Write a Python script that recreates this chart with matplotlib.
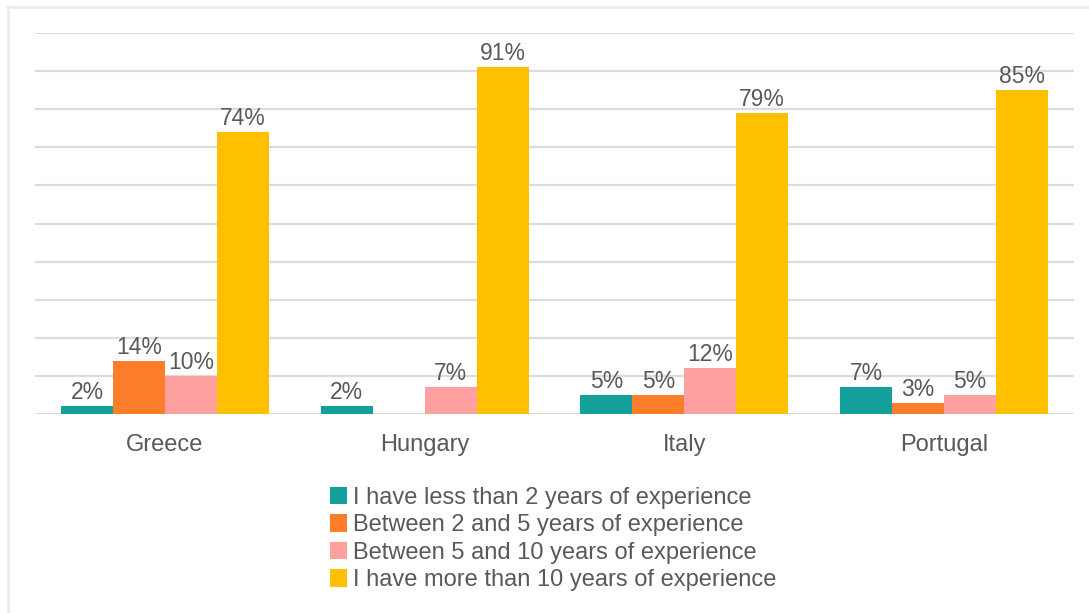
import numpy as np
import matplotlib.pyplot as plt
from matplotlib.lines import Line2D

plt.rcParams['font.family'] = ['Liberation Sans', 'DejaVu Sans']

# Survey answers: years of experience by country (percent)
countries = ['Greece', 'Hungary', 'Italy', 'Portugal']
series_names = [
    'I have less than 2 years of experience',
    'Between 2 and 5 years of experience',
    'Between 5 and 10 years of experience',
    'I have more than 10 years of experience',
]
less_than_2 = [2, 2, 5, 7]
between_2_5 = [14, 0, 5, 3]
between_5_10 = [10, 7, 12, 5]
more_than_10 = [74, 91, 79, 85]

colors = ['#14A19C', '#FD7E2A', '#FFA0A0', '#FFC000']
text_gray = '#595959'


def main():
    fig = plt.figure(figsize=(10.89, 6.13), dpi=100)
    ax = fig.add_axes([35 / 1089, (613 - 414) / 613, 1039 / 1089, (414 - 33) / 613])

    x = np.arange(len(countries))
    width = 0.2
    all_series = [less_than_2, between_2_5, between_5_10, more_than_10]

    for i, (vals, name, c) in enumerate(zip(all_series, series_names, colors)):
        pos = x + (i - 1.5) * width
        bars = ax.bar(pos, vals, width, color=c, label=name, linewidth=0, zorder=3)
        for b, v in zip(bars, vals):
            if v == 0:
                continue  # nobody answered this one, no label
            ax.text(b.get_x() + b.get_width() / 2, v + 0.5, f'{v}%',
                    ha='center', va='bottom', fontsize=16.5, color=text_gray, zorder=4)

    ax.set_xlim(-0.5, 3.5)
    ax.set_ylim(0, 100)
    ax.set_yticks(np.arange(0, 101, 10))
    ax.yaxis.grid(True, color='#dcdcdc', linewidth=1.6, zorder=0)
    ax.set_yticklabels([])
    ax.tick_params(axis='y', length=0)
    ax.set_xticks(x)
    ax.set_xticklabels(countries, fontsize=17, color=text_gray)
    ax.tick_params(axis='x', length=0, pad=14.5)
    for s in ax.spines.values():
        s.set_visible(False)

    fig.legend(loc='upper center', bbox_to_anchor=(0.508, 1 - 475 / 613),
               frameon=False, ncol=1, fontsize=17, labelcolor=text_gray,
               handlelength=0.75, handleheight=0.75, handletextpad=0.25,
               labelspacing=0.23, borderpad=0)

    # light frame along the top and left edges
    fig.add_artist(Line2D([8 / 1089, 8 / 1089], [0, 1 - 7 / 613],
                          transform=fig.transFigure, color='#ebebeb', linewidth=2))
    fig.add_artist(Line2D([8 / 1089, 1], [1 - 7 / 613, 1 - 7 / 613],
                          transform=fig.transFigure, color='#ebebeb', linewidth=2))

    fig.savefig('out.png', dpi=100)


if __name__ == '__main__':
    main()
